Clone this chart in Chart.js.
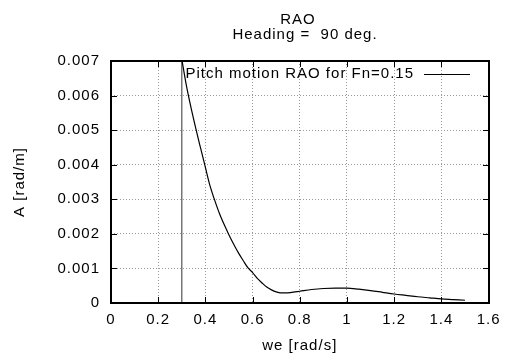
<!DOCTYPE html>
<html lang="en">
<head>
    <meta charset="UTF-8">
    <title>RAO</title>
    <script src="https://cdn.jsdelivr.net/npm/chart.js"></script>
    <style>
        html, body {
            margin: 0;
            padding: 0;
            background: #fff;
        }

        .container {
            width: 507px;
            height: 357px;
        }
    </style>
</head>
<body>
    <div class="container">
        <canvas id="chartCanvas" width="507" height="357"></canvas>
    </div>

    <script>
        // pitch RAO
        const we = [0.30, 0.32, 0.34, 0.36, 0.38, 0.40, 0.42, 0.44, 0.46, 0.48, 0.50, 0.52, 0.54, 0.56, 0.58,
            0.60, 0.62, 0.64, 0.66, 0.68, 0.70, 0.72, 0.74, 0.76, 0.78, 0.80, 0.85, 0.90, 0.95, 1.00,
            1.05, 1.10, 1.15, 1.20, 1.25, 1.30, 1.35, 1.40, 1.45, 1.50];
        const amp = [0.00705, 0.00627, 0.00562, 0.00503, 0.00447, 0.00392, 0.00338, 0.00296, 0.00258, 0.00226,
            0.00197, 0.0017, 0.00145, 0.00123, 0.00102, 0.00088, 0.00071, 0.00058, 0.00046, 0.00038, 0.00032,
            0.00029, 0.00029, 0.0003, 0.00032, 0.00034, 0.00039, 0.00042, 0.00043, 0.00043, 0.0004, 0.00036,
            0.00031, 0.00026, 0.00022, 0.00018, 0.00015, 0.00012, 0.0001, 0.00008];

        // vertical line where the curve starts
        const startWe = [0.3, 0.3];
        const startAmp = [0, 0.0075];

        const xTicks = [0, 0.2, 0.4, 0.6, 0.8, 1.0, 1.2, 1.4, 1.6];
        const xTickLabels = ['0', '0.2', '0.4', '0.6', '0.8', '1', '1.2', '1.4', '1.6'];
        const yTicks = [0, 0.001, 0.002, 0.003, 0.004, 0.005, 0.006, 0.007];
        const yTickLabels = ['0', '0.001', '0.002', '0.003', '0.004', '0.005', '0.006', '0.007'];

        const titleLines = ['RAO', 'Heading =  90 deg.'];
        const seriesLabel = 'Pitch motion RAO for Fn=0.15';

        const FONT = "'Liberation Sans', Arial, sans-serif";
        const font = { family: FONT, size: 15, lineHeight: 1.2 };

        // box, inward ticks, titles and key, gnuplot style
        const framePlugin = {
            id: 'frame',
            beforeDraw(chart) {
                chart.ctx.letterSpacing = '1px';
            },
            afterDraw(chart) {
                const ctx = chart.ctx;
                const x = chart.scales.x;
                const y = chart.scales.y;
                const l = Math.round(x.getPixelForValue(xTicks[0]));
                const r = Math.round(x.getPixelForValue(xTicks[xTicks.length - 1]));
                const b = Math.round(y.getPixelForValue(yTicks[0]));
                const t = Math.round(y.getPixelForValue(yTicks[yTicks.length - 1]));
                ctx.save();
                ctx.setLineDash([]);
                ctx.fillStyle = '#000';

                // box drawn as 2px filled strips
                ctx.fillRect(l - 1, t - 1, r - l + 2, 2);
                ctx.fillRect(l - 1, b - 1, r - l + 2, 2);
                ctx.fillRect(l - 1, t - 1, 2, b - t + 2);
                ctx.fillRect(r - 1, t - 1, 2, b - t + 2);

                xTicks.slice(1, -1).forEach(v => {
                    const px = Math.round(x.getPixelForValue(v));
                    ctx.fillRect(px, b - 6, 1, 5);
                    ctx.fillRect(px, t + 1, 1, 5);
                });
                yTicks.slice(1, -1).forEach(v => {
                    const py = Math.round(y.getPixelForValue(v));
                    ctx.fillRect(l + 1, py, 5, 1);
                    ctx.fillRect(r - 6, py, 5, 1);
                });

                ctx.font = '15px ' + FONT;
                ctx.textAlign = 'center';
                ctx.textBaseline = 'alphabetic';
                ctx.fillText(titleLines[0], 298, 24);
                ctx.fillText(titleLines[1], 305, 39);

                // key in the top right corner
                ctx.textAlign = 'right';
                ctx.fillText(seriesLabel, 414, 78);
                ctx.fillRect(424, 74, 46, 1);
                ctx.restore();
            }
        };

        const chart = new Chart(document.getElementById('chartCanvas'), {
            type: 'line',
            data: {
                datasets: [{
                    label: seriesLabel,
                    data: we.map((w, i) => ({ x: w, y: amp[i] })),
                    borderColor: '#000',
                    borderWidth: 1.2,
                    pointRadius: 0,
                    cubicInterpolationMode: 'monotone',
                    fill: false
                }, {
                    label: 'start',
                    data: startWe.map((w, i) => ({ x: w, y: startAmp[i] })),
                    borderColor: '#555',
                    borderWidth: 1.2,
                    pointRadius: 0,
                    tension: 0,
                    fill: false
                }]
            },
            options: {
                responsive: false,
                animation: false,
                devicePixelRatio: 1,
                layout: {
                    padding: { top: 61, right: 16, left: 0, bottom: 0 }
                },
                plugins: {
                    legend: { display: false },
                    title: { display: false },
                    tooltip: { enabled: false }
                },
                scales: {
                    x: {
                        type: 'linear',
                        min: 0,
                        max: 1.6,
                        afterBuildTicks: s => { s.ticks = xTicks.map(v => ({ value: v })); },
                        afterFit: s => { s.height = 54; },
                        ticks: {
                            callback: (v, i) => xTickLabels[i],
                            font: font,
                            color: '#000',
                            padding: 8,
                            maxRotation: 0,
                            autoSkip: false
                        },
                        grid: { color: '#999', drawTicks: false },
                        border: { display: false, dash: [1, 2] },
                        title: {
                            display: true,
                            text: 'we [rad/s]',
                            font: font,
                            color: '#000',
                            padding: { top: 0, bottom: 2 }
                        }
                    },
                    y: {
                        type: 'linear',
                        min: 0,
                        max: 0.007,
                        afterBuildTicks: s => { s.ticks = yTicks.map(v => ({ value: v })); },
                        afterFit: s => { s.width = 111; },
                        ticks: {
                            callback: (v, i) => yTickLabels[i],
                            font: font,
                            color: '#000',
                            padding: 11,
                            autoSkip: false
                        },
                        grid: { color: '#999', drawTicks: false },
                        border: { display: false, dash: [1, 2] },
                        title: {
                            display: true,
                            text: 'A [rad/m]',
                            font: font,
                            color: '#000',
                            padding: { top: 11, bottom: 0 }
                        }
                    }
                }
            },
            plugins: [framePlugin]
        });
    </script>
</body>
</html>
